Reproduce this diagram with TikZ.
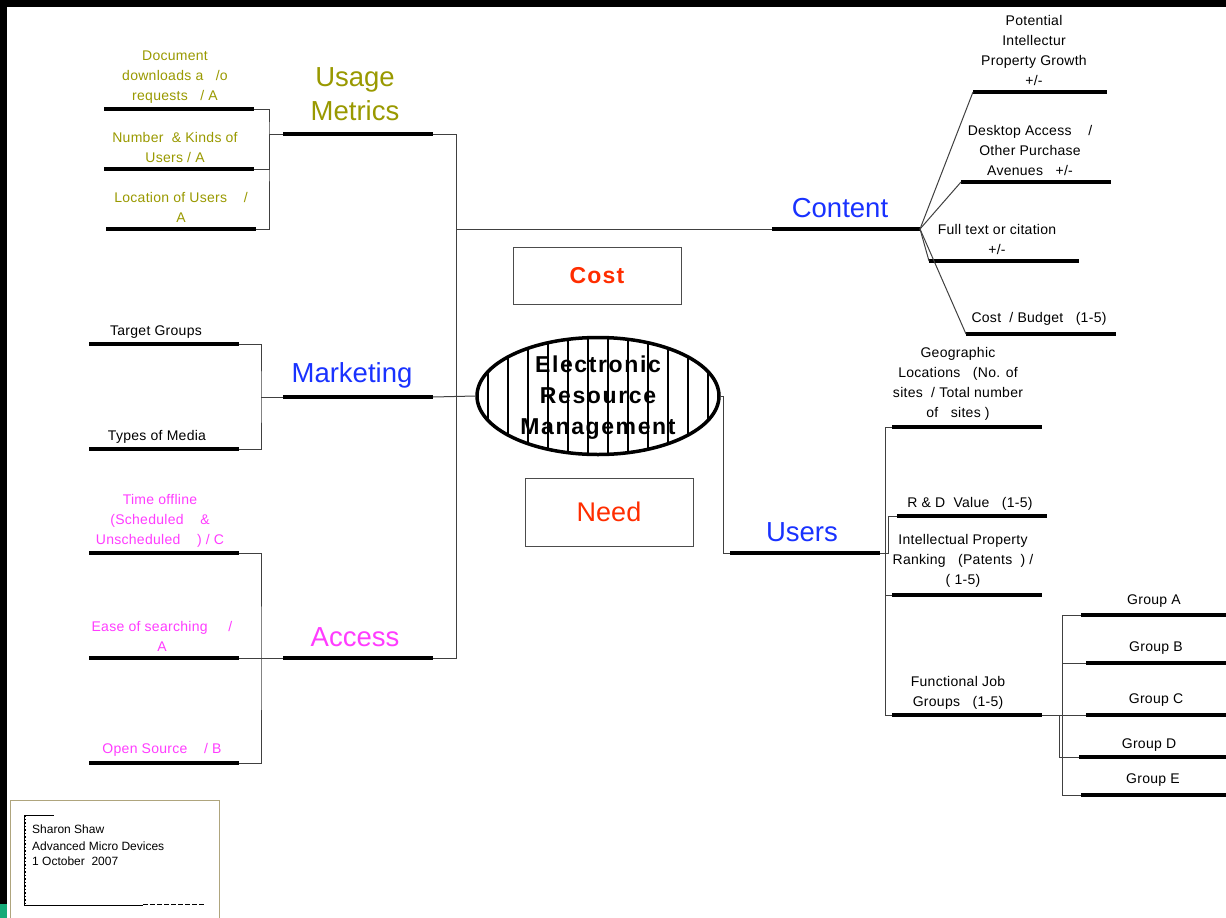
\documentclass[tikz,border=0pt]{standalone}
\usepackage{fontspec}
\setmainfont{Liberation Sans}
\usetikzlibrary{shapes.geometric}
\definecolor{umOlive}{RGB}{153,153,0}
\definecolor{mkBlue}{RGB}{25,50,255}
\definecolor{acPink}{RGB}{255,60,255}
\definecolor{costRed}{RGB}{255,45,0}
\definecolor{bandGreen}{RGB}{20,170,120}
\definecolor{tagFrame}{RGB}{175,165,125}

\begin{document}
\begin{tikzpicture}
[x=1pt,y=-1pt,
  barDecorate/.style={line width=3.5pt},
  linkDecorate/.style={draw=black!75,line width=1pt},
  leafText/.style={font=\fontsize{14}{20}\selectfont\addfontfeatures{LetterSpace=2},align=center,inner sep=0pt},
  branchText/.style={font=\fontsize{27.5}{34}\selectfont,align=center,inner sep=0pt},
  boxDecorate/.style={draw=black!70,line width=0.8pt,inner sep=0pt},
  tagText/.style={font=\fontsize{12}{15}\selectfont,anchor=west,inner sep=0pt},
  ermShape/.style={ellipse,draw,line width=3.5pt,minimum width=242pt,minimum height=117pt,
    path picture={\foreach \dx in {-110,-90,...,110}
      \draw[line width=1.1pt] ([xshift=\dx*1pt]path picture bounding box.north)
        -- ([xshift=\dx*1pt]path picture bounding box.south);}},
  ermText/.style={font=\fontsize{23}{31}\selectfont\bfseries\addfontfeatures{LetterSpace=7},align=center,inner sep=0pt}]
\useasboundingbox (0,0) rectangle (1226,918);
%% frame bands
\fill[black] (0,0) rectangle (1226,7);
\fill[black] (0,0) rectangle (7,904);
\fill[bandGreen] (0,904) rectangle (7,918);
%% bars
\foreach \barname/\xa/\xb/\y in {
  doc/104/254/109, num/104/254/169, loc/106/256/229, um/283/433/134,
  tg/89/239/344, tm/89/239/449, mk/283/433/397,
  to/89/239/553, es/89/239/658, os/89/239/763, ac/283/433/658,
  ct/772/920/229, pg/973/1107/92, da/961/1111/182, ft/929/1079/261, cb/966/1116/334,
  us/730/880/553, geo/892/1042/427, rd/897/1047/516, ip/892/1042/595, fj/892/1042/715,
  ga/1081/1226/615, gb/1086/1226/663, gc/1086/1226/715, gd/1079/1226/757, ge/1081/1226/795}
{
  \coordinate (\barname-w) at (\xa,\y);
  \coordinate (\barname-e) at (\xb,\y);
  \draw[barDecorate] (\barname-w) -- (\barname-e);
}
%% centre
\node[ermShape] (erm) at (598,396) {};
\node[ermText] (ermText) at (598,398) {Electronic\\Resource\\Management};
\node[boxDecorate,minimum width=168pt,minimum height=57pt,
  font=\fontsize{23}{28}\selectfont\bfseries\addfontfeatures{LetterSpace=5},text=costRed] (cost) at (597,276) {Cost};
\node[boxDecorate,minimum width=168pt,minimum height=68pt,
  font=\fontsize{27}{32}\selectfont,text=costRed] (need) at (609,512) {Need};
%% branch labels
\node[branchText,text=umOlive] (umText) at (355,94) {Usage\\Metrics};
\node[branchText,text=mkBlue] (mkText) at (352,375) {Marketing};
\node[branchText,text=acPink] (acText) at (355,637) {Access};
\node[branchText,text=mkBlue] (ctText) at (840,208) {Content};
\node[branchText,text=mkBlue] (usText) at (802,532) {Users};
%% leaf labels
\node[leafText,text=umOlive] (docText) at (175,77) {Document\\downloads a\ \ \ /o\\requests\ \ \ / A};
\node[leafText,text=umOlive] (numText) at (175,147) {Number\ \ \& Kinds of\\Users\ / A};
\node[leafText,text=umOlive] (locText) at (181,207) {Location of Users\ \ \ \ /\\A};
\node[leafText] (tgText) at (156,332) {Target Groups};
\node[leafText] (tmText) at (157,437) {Types of Media};
\node[leafText,text=acPink] (toText) at (160,521) {Time offline\\(Scheduled\ \ \ \ \&\\Unscheduled\ \ \ \ ) / C};
\node[leafText,text=acPink] (esText) at (162,636) {Ease of searching\ \ \ \ \ /\\A};
\node[leafText,text=acPink] (osText) at (162,750) {Open Source\ \ \ \ / B};
\node[leafText] (pgText) at (1034,50) {Potential\\Intellectur\\Property Growth\\+/-};
\node[leafText] (daText) at (1030,150) {Desktop Access\ \ \ \ /\\Other Purchase\\Avenues\ \ \ +/-};
\node[leafText] (ftText) at (997,239) {Full text or citation\\+/-};
\node[leafText] (cbText) at (1039,319) {Cost\ \ / Budget\ \ \ (1-5)};
\node[leafText] (geoText) at (958,384) {Geographic\\Locations\ \ \ (No. of\\sites\ \ / Total number\\of\ \ \ sites )};
\node[leafText] (rdText) at (970,504) {R\ \& D\ \ Value\ \ \ (1-5)};
\node[leafText] (ipText) at (963,561) {Intellectual Property\\Ranking\ \ \ (Patents\ \ ) /\\( 1-5)};
\node[leafText] (fjText) at (958,693) {Functional Job\\Groups\ \ \ (1-5)};
\node[leafText] (gaText) at (1154,601) {Group A};
\node[leafText] (gbText) at (1156,648) {Group B};
\node[leafText] (gcText) at (1156,700) {Group C};
\node[leafText] (gdText) at (1149,745) {Group D};
\node[leafText] (geText) at (1153,780) {Group E};
%% joins
\coordinate (umJoin) at (269,134);
\coordinate (mkJoin) at (261,397);
\coordinate (acJoin) at (261,658);
\coordinate (trunk) at (456,134);
\coordinate (gpJoin) at (1062,715);
%% connectors
\draw[linkDecorate] (doc-e) -| (umJoin) |- (loc-e);
\draw[linkDecorate] (num-e) -| (umJoin);
\draw[linkDecorate] (umJoin) -- (um-w);
\draw[linkDecorate] (tg-e) -| (mkJoin) |- (tm-e);
\draw[linkDecorate] (mkJoin) -- (mk-w);
\draw[linkDecorate] (to-e) -| (acJoin) |- (os-e);
\draw[linkDecorate] (es-e) -- (ac-w);
\draw[linkDecorate] (um-e) -- (trunk) |- (ac-e);
\draw[linkDecorate] (trunk |- ct-w) -- (ct-w);
\draw[linkDecorate] (mk-e) -- (erm.west);
\draw[linkDecorate] (erm.east) -- ++(3,0) |- (us-w);
\foreach \leafname in {pg,da,ft,cb}
  \draw[linkDecorate] (ct-e) -- (\leafname-w);
\draw[linkDecorate] (geo-w) -- ++(-7,0) |- (fj-w);
\draw[linkDecorate] (ip-w) -- ++(-7,0);
\draw[linkDecorate] (us-e) -- ++(8,0) |- (rd-w);
\draw[linkDecorate] (fj-e) -- (gpJoin);
\draw[linkDecorate] (ga-w) -| (gpJoin) |- (ge-w);
\draw[linkDecorate] (gb-w) -| (gpJoin);
\draw[linkDecorate] (gc-w) -- (gpJoin);
\draw[linkDecorate] (gd-w) -- ++(-20,0) |- (fj-e);
%% author tag
\draw[tagFrame,line width=1pt] (10,800) rectangle (219,930);
\draw[line width=0.8pt] (24,815) -- (54,815);
\draw[line width=0.8pt] (24,815) -- (24,905) -- (143,905);
\draw[line width=1.8pt,dash pattern=on 1.5pt off 2pt] (25,815) -- (25,905);
\draw[line width=0.8pt,dash pattern=on 5pt off 2pt] (143,904) -- (205,904);
\node[tagText] (tagName) at (32,829) {Sharon Shaw};
\node[tagText] (tagFirm) at (32,846) {Advanced Micro Devices};
\node[tagText] (tagDate) at (32,861) {1 October\ \ 2007};
\end{tikzpicture}
\end{document}
